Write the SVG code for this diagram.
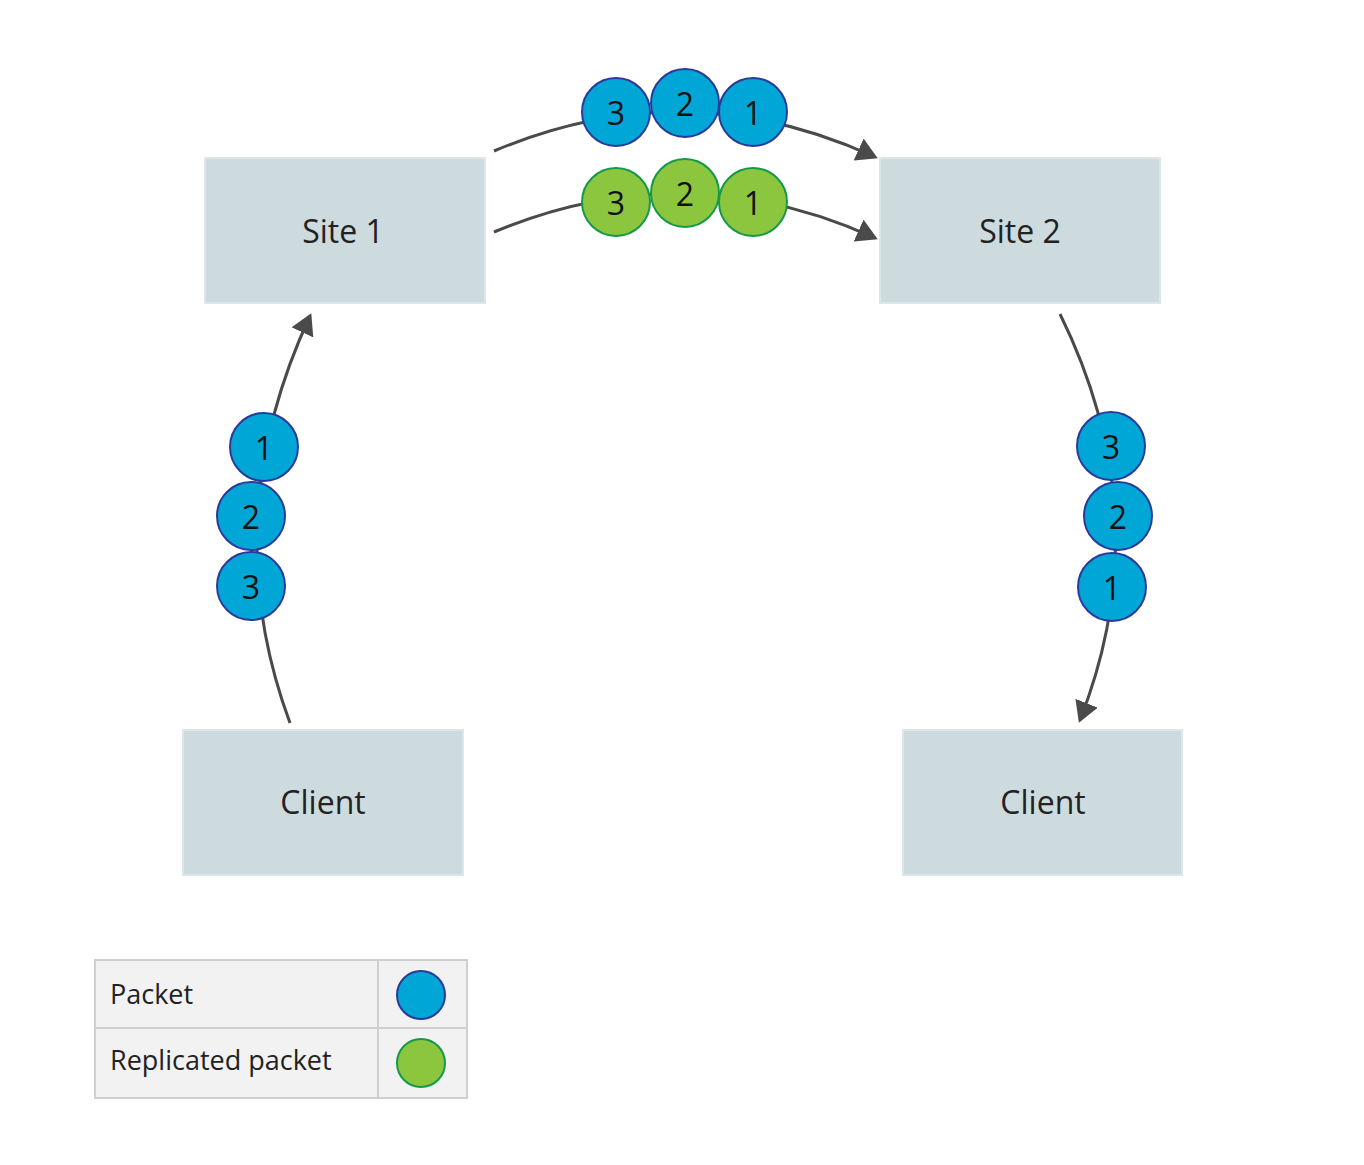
<svg xmlns="http://www.w3.org/2000/svg" width="1364" height="1165" viewBox="0 0 1364 1165">
<style>
.box{fill:#cddbdf;stroke:#dde7ea;stroke-width:2}
.lbl{font-family:"Open Sans","Noto Sans",sans-serif;font-size:32px;fill:#222;text-anchor:middle;dominant-baseline:central}
.num{font-family:"Open Sans","Noto Sans",sans-serif;font-size:32px;fill:#111;text-anchor:middle;dominant-baseline:central}
.b{fill:#00a7d6;stroke:#2b3a9a;stroke-width:2}
.g{fill:#8cc63f;stroke:#139a48;stroke-width:2}
.c{fill:none;stroke:#4a4a4a;stroke-width:3}
.leg{font-family:"Open Sans","Noto Sans",sans-serif;font-size:27px;fill:#222}
</style>
<defs><marker id="ah" markerWidth="8" markerHeight="8" refX="6" refY="4" orient="auto" markerUnits="strokeWidth"><path d="M0,0 L7,4 L0,8 z" fill="#4a4a4a"/></marker></defs>
<rect width="1364" height="1165" fill="#fff"/>
<g id="connectors">
<path class="c" d="M494,151 Q685,70 875,157" marker-end="url(#ah)"/>
<path class="c" d="M494,232 Q685,152 875,238" marker-end="url(#ah)"/>
<path class="c" d="M290,723 Q215,520 310,316" marker-end="url(#ah)"/>
<path class="c" d="M1060,314 Q1160,517 1080,720" marker-end="url(#ah)"/>
</g>
<g id="site1"><rect class="box" x="205" y="158" width="280" height="145"/><text class="lbl" x="343" y="230">Site 1</text></g>
<g id="site2"><rect class="box" x="880" y="158" width="280" height="145"/><text class="lbl" x="1020" y="230">Site 2</text></g>
<g id="client1"><rect class="box" x="183" y="730" width="280" height="145"/><text class="lbl" x="323" y="801">Client</text></g>
<g id="client2"><rect class="box" x="903" y="730" width="279" height="145"/><text class="lbl" x="1043" y="801">Client</text></g>
<g id="packets-top">
<circle class="b" cx="616" cy="112" r="34"/><text class="num" x="616" y="112">3</text>
<circle class="b" cx="685" cy="103" r="34"/><text class="num" x="685" y="103">2</text>
<circle class="b" cx="753" cy="112" r="34"/><text class="num" x="753" y="112">1</text>
</g>
<g id="packets-green">
<circle class="g" cx="616" cy="202" r="34"/><text class="num" x="616" y="202">3</text>
<circle class="g" cx="685" cy="193" r="34"/><text class="num" x="685" y="193">2</text>
<circle class="g" cx="753" cy="202" r="34"/><text class="num" x="753" y="202">1</text>
</g>
<g id="packets-left">
<circle class="b" cx="264" cy="447" r="34"/><text class="num" x="264" y="447">1</text>
<circle class="b" cx="251" cy="516" r="34"/><text class="num" x="251" y="516">2</text>
<circle class="b" cx="251" cy="586" r="34"/><text class="num" x="251" y="586">3</text>
</g>
<g id="packets-right">
<circle class="b" cx="1111" cy="446" r="34"/><text class="num" x="1111" y="446">3</text>
<circle class="b" cx="1118" cy="516" r="34"/><text class="num" x="1118" y="516">2</text>
<circle class="b" cx="1112" cy="587" r="34"/><text class="num" x="1112" y="587">1</text>
</g>
<g id="legend">
<rect x="95" y="960" width="372" height="138" fill="#f2f2f2" stroke="#cfcfcf" stroke-width="2"/>
<line x1="95" y1="1028" x2="467" y2="1028" stroke="#cfcfcf" stroke-width="2"/>
<line x1="378" y1="960" x2="378" y2="1098" stroke="#cfcfcf" stroke-width="2"/>
<text class="leg" x="110" y="1004">Packet</text>
<text class="leg" x="110" y="1070">Replicated packet</text>
<circle class="b" cx="421" cy="995" r="24"/>
<circle class="g" cx="421" cy="1063" r="24"/>
</g>
</svg>
